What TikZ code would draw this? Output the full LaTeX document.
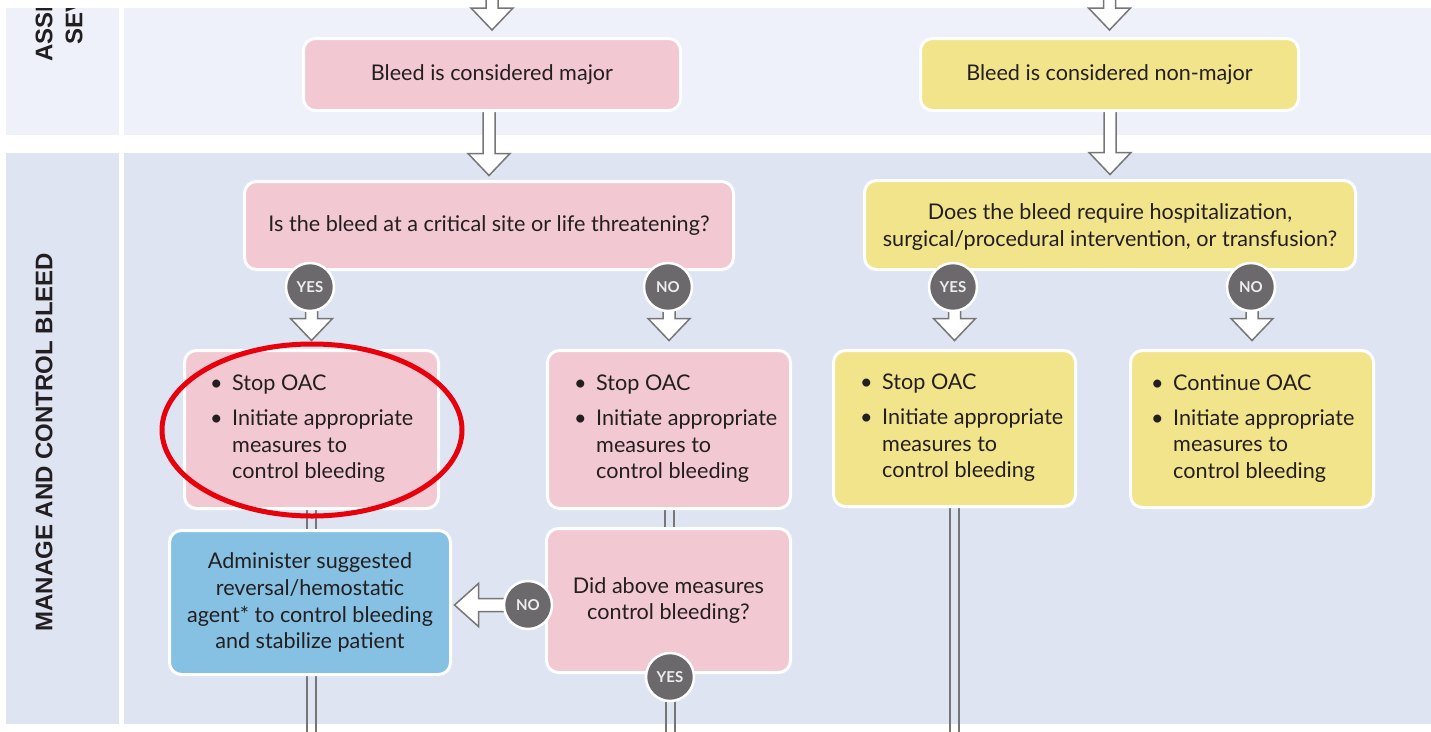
\documentclass[tikz,border=0pt]{standalone}
\usepackage{fontspec}
\setmainfont{Lato}
\newfontfamily\labelfont{Liberation Sans}
\usetikzlibrary{calc}

\definecolor{bandtop}{HTML}{EEF1FA}
\definecolor{bandlow}{HTML}{DFE4F2}
\definecolor{pinkbox}{HTML}{F2C8D2}
\definecolor{yellowbox}{HTML}{F2E48A}
\definecolor{bluebox}{HTML}{86C1E3}
\definecolor{badge}{HTML}{6C696D}
\definecolor{badgetext}{HTML}{EDEDED}
\definecolor{inkdark}{HTML}{231F20}
\definecolor{pipegray}{HTML}{767676}
\definecolor{alertred}{HTML}{E8000B}

\pgfdeclarelayer{bands}
\pgfdeclarelayer{links}
\pgfsetlayers{bands,links,main}

\tikzset{
  boxbase/.style={rounded corners=12pt, draw=white, line width=3pt,
    inner sep=0pt, text=inkdark, align=center,
    font=\fontsize{21.6}{26.8}\selectfont},
  pinkstep/.style={boxbase, fill=pinkbox},
  yellowstep/.style={boxbase, fill=yellowbox},
  bluestep/.style={boxbase, fill=bluebox},
  bullets/.style={anchor=west, inner sep=0pt, text=inkdark,
    font=\fontsize{21.6}{26.5}\selectfont},
  answer/.style={circle, fill=badge, draw=white, line width=2.5pt,
    minimum size=48pt, inner sep=0pt, text=badgetext,
    font=\bfseries\fontsize{15}{15}\selectfont},
  lanelabel/.style={rotate=90, inner sep=0pt, text=inkdark,
    font=\labelfont\bfseries\fontsize{24}{30}\selectfont},
  blockarrow/.style={draw=pipegray, fill=white, line width=1.5pt,
    line join=miter},
  pipe/.style={draw=pipegray, line width=2pt},
}

% hollow block arrow running down from #1 to its tip at #2
\newcommand\shaftdown[2]{%
  \filldraw[blockarrow] let \p1=(#1), \p2=(#2) in
    (\x2-6pt,\y1) -- (\x2-6pt,\y2+22pt) -- (\x2-21pt,\y2+22pt) --
    (\x2,\y2) -- (\x2+21pt,\y2+22pt) -- (\x2+6pt,\y2+22pt) -- (\x2+6pt,\y1);}
% hollow block arrow running left from #1 to its tip at #2
\newcommand\shaftleft[2]{%
  \filldraw[blockarrow] let \p1=(#1), \p2=(#2) in
    (\x1,\y2+6.5pt) -- (\x2+24pt,\y2+6.5pt) -- (\x2+24pt,\y2+21.5pt) --
    (\x2,\y2) -- (\x2+24pt,\y2-21.5pt) -- (\x2+24pt,\y2-6.5pt) -- (\x1,\y2-6.5pt);}
% vertical double-rule link at the x of #1, from #1 to the height of #2
\newcommand\pipelink[2]{%
  \draw[pipe] let \p1=(#1), \p2=(#2) in
    (\x1-4.5pt,\y1) -- (\x1-4.5pt,\y2) (\x1+4.5pt,\y1) -- (\x1+4.5pt,\y2);}
% bullet list with fixed line breaks
\newcommand\bulletlist[2]{%
  \begin{tabular}{@{}l@{\hspace{9.5pt}}l@{}}
  \textbullet & #1\\[8.5pt]
  \textbullet & #2
  \end{tabular}}

\begin{document}
\begin{tikzpicture}[x=1pt, y=-1pt]
\useasboundingbox (0,0) rectangle (1431,731);

% lanes
\begin{pgfonlayer}{bands}
  \fill[white] (0,0) rectangle (1431,731);
  \fill[bandtop] (6,8) rectangle (119,135);
  \fill[bandtop] (124,8) rectangle (1431,135);
  \fill[bandlow] (6,153) rectangle (119,724);
  \fill[bandlow] (124,153) rectangle (1431,724);
\end{pgfonlayer}

\begin{scope}
  \clip (6,8) rectangle (119,135);
  \node[lanelabel, anchor=west] (assess) at (44,62) {ASSESS};
  \node[lanelabel, anchor=west] (severity) at (74,45) {SEVERITY};
\end{scope}
\node[lanelabel] (manage) at (44,442) {MANAGE AND CONTROL BLEED};

% steps
\node[pinkstep, minimum width=377pt, minimum height=72pt] (major) at (492,74.5)
  {Bleed is considered major};
\node[yellowstep, minimum width=378pt, minimum height=72pt] (nonmajor) at (1109.5,74.5)
  {Bleed is considered non-major};
\node[pinkstep, minimum width=489pt, minimum height=88pt] (critical) at (489,225.5)
  {Is the bleed at a critical site or life threatening?};
\node[yellowstep, minimum width=491pt, minimum height=89pt] (hosp) at (1110,225)
  {\rule{0pt}{20pt}Does the bleed require hospitalization,\\surgical/procedural intervention, or transfusion?};

\node[pinkstep, minimum width=254pt, minimum height=158pt] (stopA) at (311.5,429.5) {};
\node[pinkstep, minimum width=243pt, minimum height=158pt] (stopB) at (669,429.5) {};
\node[yellowstep, minimum width=242pt, minimum height=156pt] (stopC) at (954.5,428.5) {};
\node[yellowstep, minimum width=243pt, minimum height=157pt] (contD) at (1252,429) {};

\node[bullets] (stopAtext) at ([xshift=27pt]stopA.west)
  {\bulletlist{Stop OAC}{Initiate appropriate\\ & measures to\\ & control bleeding}};
\node[bullets] (stopBtext) at ([xshift=28pt]stopB.west)
  {\bulletlist{Stop OAC}{Initiate appropriate\\ & measures to\\ & control bleeding}};
\node[bullets] (stopCtext) at ([xshift=28pt]stopC.west)
  {\bulletlist{Stop OAC}{Initiate appropriate\\ & measures to\\ & control bleeding}};
\node[bullets] (contDtext) at ([xshift=22pt]contD.west)
  {\bulletlist{Continue OAC}{Initiate appropriate\\ & measures to\\ & control bleeding}};

\node[bluestep, minimum width=281pt, minimum height=144pt] (admin) at (310,602.5)
  {Administer suggested\\reversal/hemostatic\\agent* to control bleeding\\and stabilize patient};
\node[pinkstep, minimum width=244pt, minimum height=144pt] (did) at (668.5,600.5)
  {Did above measures\\control bleeding?};

% answers
\node[answer] (yesA) at (310,287) {YES};
\node[answer] (noA) at (668,287) {NO};
\node[answer] (yesB) at (953,287) {YES};
\node[answer] (noB) at (1251,287) {NO};
\node[answer] (noC) at (528,605) {NO};
\node[answer] (yesC) at (670,677) {YES};

% ends of links that run off the sheet
\coordinate (inA) at (major.north |- 0,-10);
\coordinate (inB) at (nonmajor.north |- 0,-10);
\coordinate (outA) at (stopA |- 0,745);
\coordinate (outB) at (yesC |- 0,745);
\coordinate (outC) at (stopC |- 0,745);

\begin{pgfonlayer}{links}
  \shaftdown{inA}{[yshift=7pt]major.north}
  \shaftdown{inB}{[yshift=7pt]nonmajor.north}
  \shaftdown{major}{[yshift=4.5pt]critical.north}
  \shaftdown{nonmajor}{[yshift=4.5pt]hosp.north}
  \shaftdown{yesA}{[yshift=8.5pt]stopA.north}
  \shaftdown{noA}{[yshift=8.5pt]stopB.north}
  \shaftdown{yesB}{[yshift=8.5pt]stopC.north}
  \shaftdown{noB}{[yshift=8.5pt]contD.north}
  \shaftleft{noC}{[xshift=2.5pt]admin.east |- noC}
  \pipelink{stopA}{admin}
  \pipelink{stopA |- admin}{outA}
  \pipelink{stopB}{did}
  \pipelink{yesC}{outB}
  \pipelink{stopC}{outC}
\end{pgfonlayer}

% highlight ring
\draw[alertred, line width=5pt] (312,430) ellipse [x radius=150pt, y radius=86pt];
\end{tikzpicture}
\end{document}
